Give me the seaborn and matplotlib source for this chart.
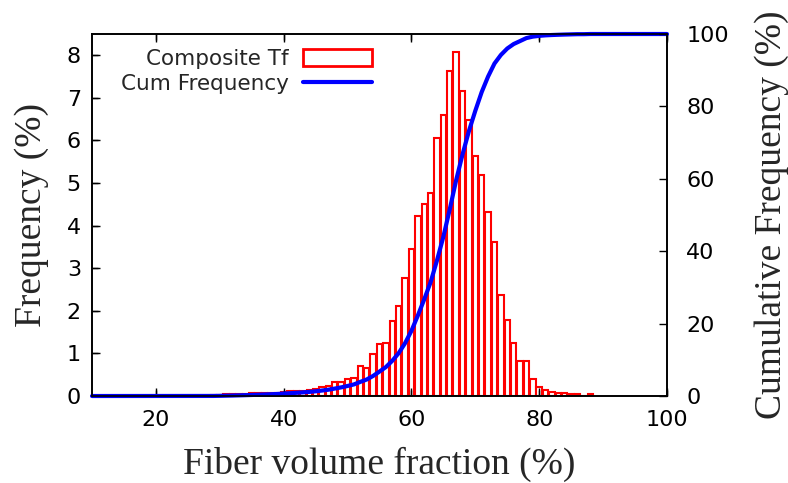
import numpy as np
import pandas as pd
import matplotlib
matplotlib.use("Agg")
import matplotlib.pyplot as plt
import matplotlib.transforms as mtransforms
import seaborn as sns
from matplotlib.patches import Patch
from matplotlib.lines import Line2D

# histogram bins (fiber volume fraction, %) and frequency (%)
bin_centers = list(range(29, 89))
frequency = [
    0.02, 0.03, 0.04, 0.04, 0.05, 0.05, 0.06, 0.06, 0.07, 0.07,   # 29-38
    0.08, 0.10, 0.11, 0.11, 0.12, 0.13, 0.16, 0.22, 0.23, 0.32,   # 39-48
    0.33, 0.39, 0.43, 0.71, 0.66, 0.99, 1.22, 1.24, 1.75, 2.12,   # 49-58
    2.76, 3.45, 4.23, 4.50, 4.77, 6.06, 6.59, 7.63, 8.08, 7.16,   # 59-68
    6.49, 5.63, 5.20, 4.31, 3.61, 2.38, 1.79, 1.24, 0.83, 0.83,   # 69-78
    0.40, 0.22, 0.14, 0.09, 0.07, 0.06, 0.05, 0.05, 0.00, 0.05,   # 79-88
]
x_range = (10, 100)
x_ticks = [20, 40, 60, 80, 100]
y_ticks = list(range(0, 9))
y2_ticks = list(range(0, 101, 20))

df = pd.DataFrame({"vf": bin_centers, "freq": frequency})
bars = df[df["freq"] > 0]

# cumulative frequency from the histogram
cum = np.cumsum(df["freq"]) / df["freq"].sum() * 100
cum_x = np.r_[x_range[0], df["vf"], x_range[1]]
cum_y = np.r_[0, cum, 100]

sns.set_style("ticks", {
    "xtick.direction": "in", "ytick.direction": "in",
    "xtick.top": True, "axes.axisbelow": False,
    "xtick.color": "black", "ytick.color": "black",
})
plt.rcParams["font.family"] = ["DejaVu Sans"]

fig = plt.figure(figsize=(7.88, 4.83), dpi=100)
ax = fig.add_axes([0.1168, 0.1801, 0.7296, 0.7495])

sns.histplot(data=bars, x="vf", weights="freq", discrete=True, shrink=0.85,
             fill=False, color="red", linewidth=1.5, ax=ax)

ax2 = ax.twinx()
sns.lineplot(x=cum_x, y=cum_y, color="blue", linewidth=3, ax=ax2,
             sort=False, clip_on=False)

ax.set_xlim(*x_range)
ax.set_ylim(0, 8.5)
ax2.set_ylim(0, 100)
ax.set_xticks(x_ticks)
ax.set_yticks(y_ticks)
ax2.set_yticks(y2_ticks)

ax.xaxis.set_tick_params(which="major", direction="in", length=6, width=1,
                         color="black", bottom=True, top=True, labelsize=16, pad=10)
ax.yaxis.set_tick_params(which="major", direction="in", length=6, width=1,
                         color="black", left=True, right=False, labelsize=16, pad=8)
ax2.tick_params(axis="y", direction="in", labelsize=16, length=6, width=1,
                right=True, left=False, pad=14, color="black")

# inward tick marks on bottom, top and left edges (gnuplot look)
tick_h = 6 / (fig.bbox.height * ax.get_position().height)
tick_w = 6 / (fig.bbox.width * ax.get_position().width)
tx = mtransforms.blended_transform_factory(ax.transData, ax.transAxes)
ty = mtransforms.blended_transform_factory(ax.transAxes, ax.transData)
ax.vlines(x_ticks, 0, tick_h, transform=tx, color="black", lw=1, clip_on=False)
ax.vlines(x_ticks, 1 - tick_h, 1, transform=tx, color="black", lw=1, clip_on=False)
ax.hlines(y_ticks, 0, tick_w, transform=ty, color="black", lw=1, clip_on=False)

serif = ["Liberation Serif", "DejaVu Serif"]
ax.set_xlabel("Fiber volume fraction (%)", family=serif, fontsize=27, labelpad=12)
ax.set_ylabel("Frequency (%)", family=serif, fontsize=27, labelpad=13)
ax2.set_ylabel("Cumulative Frequency (%)", family=serif, fontsize=27, labelpad=18)

for a in (ax, ax2):
    for s in a.spines.values():
        s.set_visible(True)
        s.set_color("black")
        s.set_linewidth(1.2)

handles = [Patch(facecolor="white", edgecolor="red", linewidth=2),
           Line2D([], [], color="blue", linewidth=3)]
leg = ax2.legend(handles, ["Composite Tf", "Cum Frequency"], loc="upper left",
                 bbox_to_anchor=(0.024, 1.0), frameon=False, markerfirst=False,
                 fontsize=15.5, handlelength=3.2, handleheight=0.8,
                 handletextpad=0.65, labelspacing=0.22, borderaxespad=0.3)

fig.savefig("out.png", dpi=100)
